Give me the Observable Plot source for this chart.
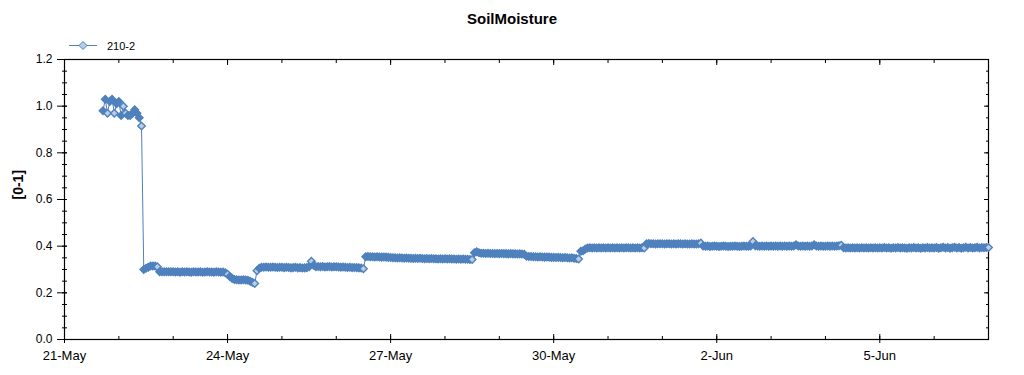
<!DOCTYPE html>
<html><head><meta charset="utf-8">
<script src="https://cdn.jsdelivr.net/npm/d3@7"></script>
<script src="https://cdn.jsdelivr.net/npm/@observablehq/plot@0.6"></script>
<style>
body{margin:0;background:#fff;font-family:"Liberation Sans",Arial,sans-serif;}
#wrap{width:1024px;height:375px;position:relative;overflow:hidden;background:#fff}
#head{position:relative;height:50px}
#title{position:absolute;top:10px;left:0;width:1024px;text-align:center;font-weight:bold;font-size:15px;line-height:18px;color:#000}
#legend{position:absolute;left:66px;top:37px;overflow:visible}
</style></head><body>
<div id="wrap">
  <div id="head">
    <div id="title">SoilMoisture</div>
    <svg id="legend" width="90" height="16"></svg>
  </div>
  <div id="chart"></div>
</div>
<script>
// ---- data (hourly readings, UTC) ----
const seriesName = "210-2";
const firstReading = "2017-05-21T17:00:00Z";
const may21 = [0.98, 1.03, 0.97, 1.02, 1.03, 0.97, 1.01];
const may22 = [1.02, 0.96, 1.00, 0.97, 0.96, 0.96, 0.97, 0.985, 0.97, 0.95, 0.915, 0.30, 0.305, 0.31, 0.315, 0.315, 0.315, 0.312, 0.29, 0.29, 0.29, 0.29, 0.29, 0.29];
const may23 = [0.29, 0.289, 0.29, 0.288, 0.29, 0.289, 0.29, 0.289, 0.288, 0.29, 0.289, 0.289, 0.29, 0.288, 0.289, 0.29, 0.289, 0.289, 0.288, 0.29, 0.289, 0.288, 0.289, 0.286];
const may24 = [0.28, 0.27, 0.262, 0.257, 0.256, 0.255, 0.255, 0.256, 0.255, 0.254, 0.25, 0.245, 0.24, 0.295, 0.305, 0.31, 0.31, 0.311, 0.31, 0.31, 0.311, 0.31, 0.309, 0.31];
const may25 = [0.31, 0.308, 0.31, 0.309, 0.307, 0.308, 0.31, 0.307, 0.308, 0.306, 0.307, 0.308, 0.312, 0.335, 0.318, 0.312, 0.313, 0.312, 0.313, 0.311, 0.312, 0.313, 0.311, 0.312];
const may26 = [0.312, 0.311, 0.31, 0.311, 0.31, 0.309, 0.31, 0.308, 0.309, 0.308, 0.307, 0.306, 0.303, 0.355, 0.356, 0.355, 0.355, 0.354, 0.355, 0.354, 0.353, 0.354, 0.353, 0.352];
const may27 = [0.351, 0.350, 0.350, 0.349, 0.350, 0.349, 0.348, 0.349, 0.348, 0.348, 0.347, 0.348, 0.347, 0.348, 0.347, 0.346, 0.347, 0.346, 0.347, 0.346, 0.346, 0.345, 0.346, 0.345];
const may28 = [0.346, 0.345, 0.346, 0.345, 0.345, 0.344, 0.345, 0.344, 0.345, 0.344, 0.344, 0.343, 0.343, 0.372, 0.376, 0.372, 0.370, 0.370, 0.369, 0.370, 0.369, 0.369, 0.368, 0.369];
const may29 = [0.368, 0.369, 0.368, 0.368, 0.367, 0.368, 0.367, 0.367, 0.366, 0.367, 0.366, 0.365, 0.357, 0.356, 0.356, 0.355, 0.355, 0.354, 0.355, 0.354, 0.353, 0.354, 0.353, 0.352];
const may30 = [0.352, 0.351, 0.352, 0.351, 0.350, 0.351, 0.350, 0.349, 0.350, 0.348, 0.347, 0.345, 0.378, 0.38, 0.388, 0.392, 0.393, 0.392, 0.393, 0.392, 0.393, 0.392, 0.393, 0.392];
const may31 = [0.393, 0.392, 0.393, 0.392, 0.393, 0.392, 0.393, 0.392, 0.393, 0.393, 0.392, 0.393, 0.392, 0.393, 0.392, 0.393, 0.392, 0.41, 0.411, 0.41, 0.41, 0.409, 0.41, 0.41];
const jun01 = [0.41, 0.409, 0.41, 0.41, 0.409, 0.41, 0.409, 0.41, 0.41, 0.409, 0.41, 0.409, 0.409, 0.41, 0.409, 0.409, 0.41, 0.413, 0.401, 0.400, 0.401, 0.399, 0.400, 0.401];
const jun02 = [0.400, 0.399, 0.400, 0.401, 0.400, 0.399, 0.400, 0.400, 0.401, 0.400, 0.399, 0.400, 0.401, 0.400, 0.400, 0.401, 0.42, 0.402, 0.401, 0.400, 0.401, 0.400, 0.401, 0.400];
const jun03 = [0.401, 0.400, 0.401, 0.400, 0.401, 0.400, 0.401, 0.400, 0.401, 0.400, 0.401, 0.406, 0.401, 0.400, 0.401, 0.400, 0.401, 0.400, 0.401, 0.406, 0.401, 0.400, 0.401, 0.400];
const jun04 = [0.400, 0.401, 0.400, 0.401, 0.400, 0.401, 0.402, 0.404, 0.393, 0.392, 0.393, 0.392, 0.393, 0.392, 0.393, 0.392, 0.393, 0.392, 0.393, 0.392, 0.393, 0.392, 0.393, 0.392];
const jun05 = [0.393, 0.392, 0.394, 0.392, 0.393, 0.391, 0.393, 0.392, 0.394, 0.392, 0.393, 0.392, 0.391, 0.393, 0.392, 0.394, 0.392, 0.393, 0.391, 0.393, 0.392, 0.394, 0.392, 0.393];
const jun06 = [0.392, 0.394, 0.391, 0.393, 0.395, 0.392, 0.394, 0.391, 0.393, 0.395, 0.392, 0.394, 0.391, 0.393, 0.395, 0.392, 0.394, 0.392, 0.393, 0.395, 0.392, 0.394, 0.393, 0.394];
const jun07 = [0.394];

// ---- axes ----
const xDomain = ["2017-05-21T00:00:00Z", "2017-06-07T00:00:00Z"];
const xMajorTicks = ["2017-05-21", "2017-05-24", "2017-05-27", "2017-05-30", "2017-06-02", "2017-06-05"];
const xTickLabels = ["21-May", "24-May", "27-May", "30-May", "2-Jun", "5-Jun"];
const yDomain = [0, 1.2];
const yMajorTicks = [0, 0.2, 0.4, 0.6, 0.8, 1.0, 1.2];
const yTickLabels = ["0.0", "0.2", "0.4", "0.6", "0.8", "1.0", "1.2"];
const yMinorStep = 0.05;
const yLabel = "[0-1]";

const blue = "#4f81bd";
const light = "#b9cde5";

const readings = [].concat(may21, may22, may23, may24, may25, may26, may27, may28, may29, may30, may31, jun01, jun02, jun03, jun04, jun05, jun06, jun07);
const t0 = new Date(firstReading).getTime();
const data = readings.map((v, i) => ({time: new Date(t0 + i * 3600e3), value: v}));
// the last reading before a lasting level change stays visible as an open (light) marker
const openMarker = (d, i) => {
  if (i === readings.length - 1) return true;
  const a = Math.abs(readings[i + 1] - readings[i]);
  const b = i + 2 < readings.length ? Math.abs(readings[i + 2] - readings[i + 1]) : 0;
  return a > 0.01 && b <= 0.012;
};

const xMajor = xMajorTicks.map(d => new Date(d + "T00:00:00Z"));
const xLabelMap = new Map(xMajor.map((d, i) => [+d, xTickLabels[i]]));
const xMinor = d3.utcDay.range(new Date(xDomain[0]), new Date(xDomain[1]));
const yLabelMap = new Map(yMajorTicks.map((d, i) => [d.toFixed(2), yTickLabels[i]]));
const yMinor = d3.range(0, Math.round(yDomain[1] / yMinorStep) + 1).map(k => +(k * yMinorStep).toFixed(2));
const blank = () => "";

const font = '"Liberation Sans", Arial, sans-serif';
const ax = {label: null};

const chart = Plot.plot({
  width: 1024, height: 325,
  marginTop: 9, marginBottom: 36, marginLeft: 64, marginRight: 36,
  style: {fontFamily: font, fontSize: "12px", background: "white", color: "black"},
  x: {type: "utc", domain: xDomain.map(d => new Date(d)), label: null},
  y: {domain: yDomain, label: null},
  color: {type: "identity"},
  marks: [
    // bottom ticks
    Plot.axisX({...ax, anchor: "bottom", ticks: xMinor, tickSize: 3, dy: -3, tickFormat: blank}),
    Plot.axisX({...ax, anchor: "bottom", ticks: xMajor, tickSize: 9, dy: -5, tickFormat: blank}),
    Plot.axisX({...ax, anchor: "bottom", ticks: xMajor, tickSize: 0, tickPadding: 11, fontSize: 13, tickFormat: d => xLabelMap.get(+d)}),
    // top ticks (inward)
    Plot.axisX({...ax, anchor: "top", ticks: xMinor, tickSize: 3, dy: 3, tickFormat: blank}),
    Plot.axisX({...ax, anchor: "top", ticks: xMajor, tickSize: 5, dy: 5, tickFormat: blank}),
    // left ticks
    Plot.axisY({...ax, anchor: "left", ticks: yMinor, tickSize: 5, dx: 3, tickFormat: blank}),
    Plot.axisY({...ax, anchor: "left", ticks: yMajorTicks, tickSize: 10, dx: 3, tickFormat: blank}),
    Plot.axisY({...ax, anchor: "left", ticks: yMajorTicks, tickSize: 0, tickPadding: 12, fontSize: 12, tickFormat: d => yLabelMap.get(d.toFixed(2))}),
    // right ticks (inward)
    Plot.axisY({...ax, anchor: "right", ticks: yMinor, tickSize: 3, dx: -3, tickFormat: blank}),
    Plot.axisY({...ax, anchor: "right", ticks: yMajorTicks, tickSize: 5, dx: -5, tickFormat: blank}),
    Plot.frame({stroke: "black", strokeWidth: 1.2}),
    Plot.text([yLabel], {text: d => d, frameAnchor: "left", rotate: -90, dx: -46, fontWeight: "bold", fontSize: 14}),
    Plot.line(data, {x: "time", y: "value", stroke: blue, strokeWidth: 1}),
    Plot.dot(data, {x: "time", y: "value", symbol: "diamond2", r: 3.4, fill: (d, i) => openMarker(d, i) ? light : blue, stroke: blue, strokeWidth: 1.4})
  ]
});
document.getElementById("chart").appendChild(chart);

// legend
const lg = d3.select("#legend");
lg.append("line").attr("x1", 3).attr("x2", 31).attr("y1", 8.5).attr("y2", 8.5).attr("stroke", blue).attr("stroke-width", 1);
lg.append("path").attr("d", "M17,4.5L21,8.5L17,12.5L13,8.5Z").attr("fill", light).attr("stroke", blue).attr("stroke-width", 1);
lg.append("text").attr("x", 41).attr("y", 12.5).attr("font-size", 11).attr("font-family", font).attr("fill", "black").text(seriesName);
</script>
</body></html>
